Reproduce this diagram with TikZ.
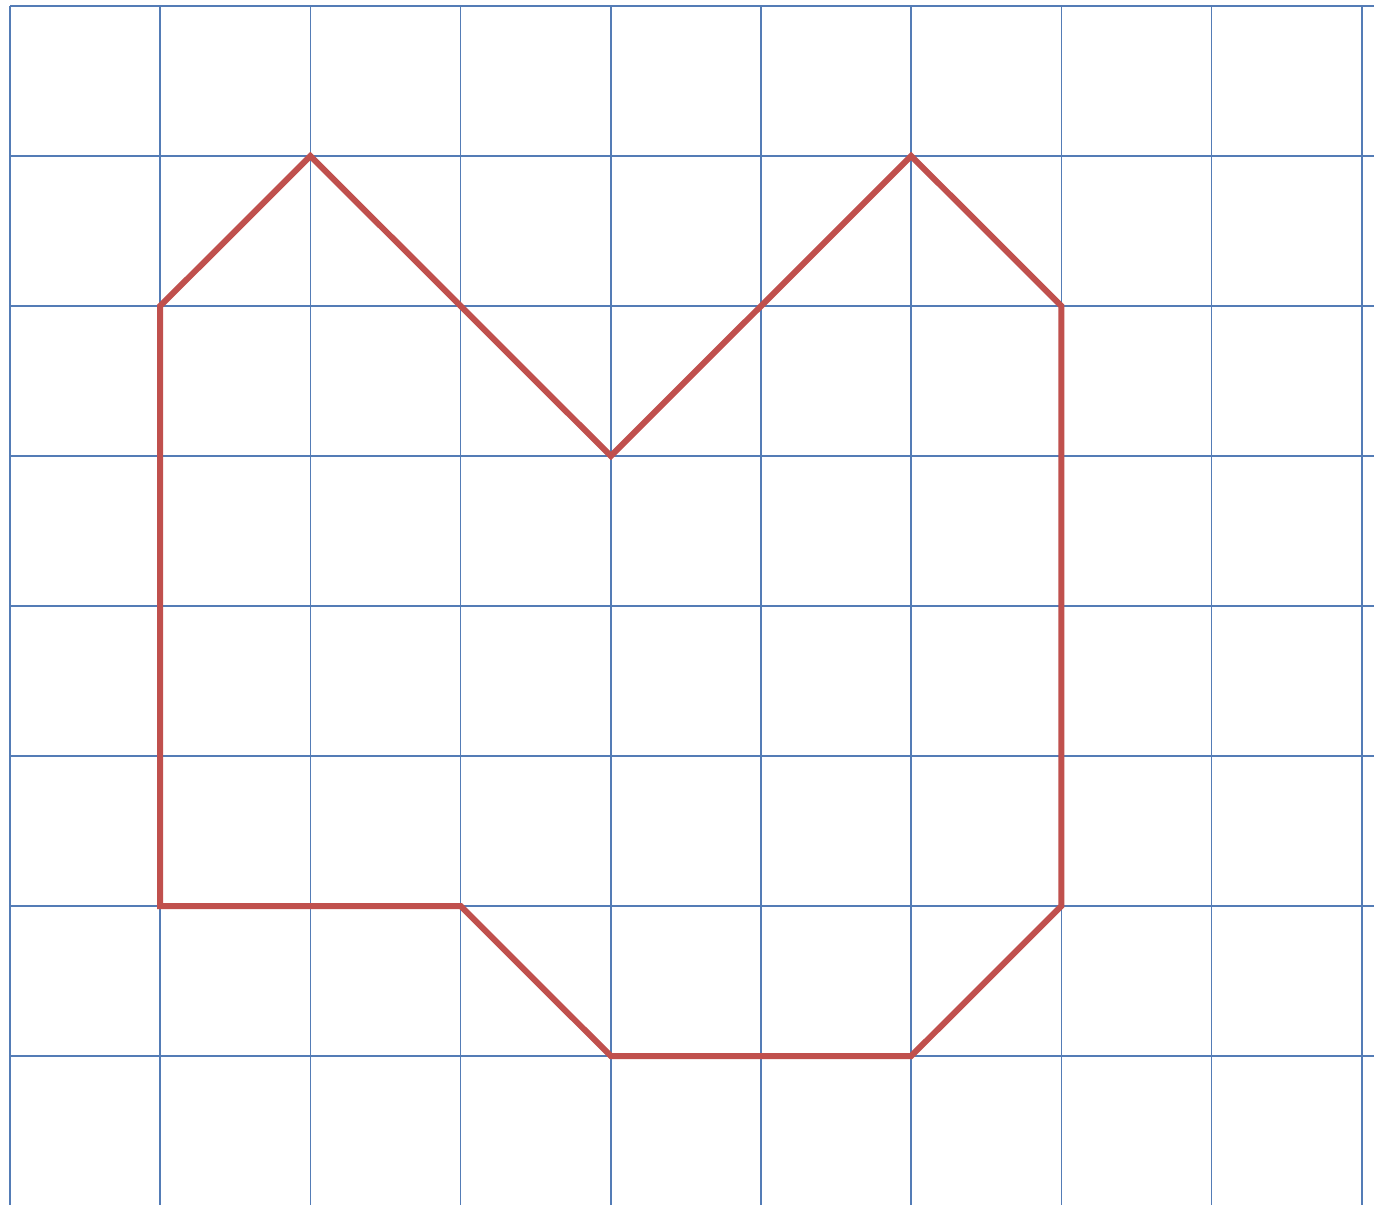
\documentclass[tikz,border=0pt]{standalone}
\begin{document}
\begin{tikzpicture}[x=1pt,y=-1pt,
  gridline/.style={draw=gridblue,line width=1.5pt},
  outline/.style={draw=shapered,line width=6pt,line join=miter,line cap=rect}]
\definecolor{gridblue}{RGB}{84,124,182}
\definecolor{shapered}{RGB}{192,80,77}
\useasboundingbox (0,0) rectangle (1374,1205);
\fill[white] (0,0) rectangle (1374,1205);
\foreach \i in {0,...,9} {
  \draw[gridline] ({10+150.2*\i},6) -- ({10+150.2*\i},1205);
}
\foreach \j in {0,...,8} {
  \draw[gridline] (10,{6+150*\j}) -- (1374,{6+150*\j});
}
\foreach \n/\i/\j in {a/1/2,b/2/1,c/4/3,d/6/1,e/7/2,f/7/6,g/6/7,h/4/7,k/3/6,l/1/6} {
  \coordinate (\n) at ({10+150.2*\i},{6+150*\j});
}
\draw[outline] (a) -- (b) -- (c) -- (d) -- (e) -- (f) -- (g) -- (h) -- (k) -- (l) -- cycle;
\end{tikzpicture}
\end{document}
